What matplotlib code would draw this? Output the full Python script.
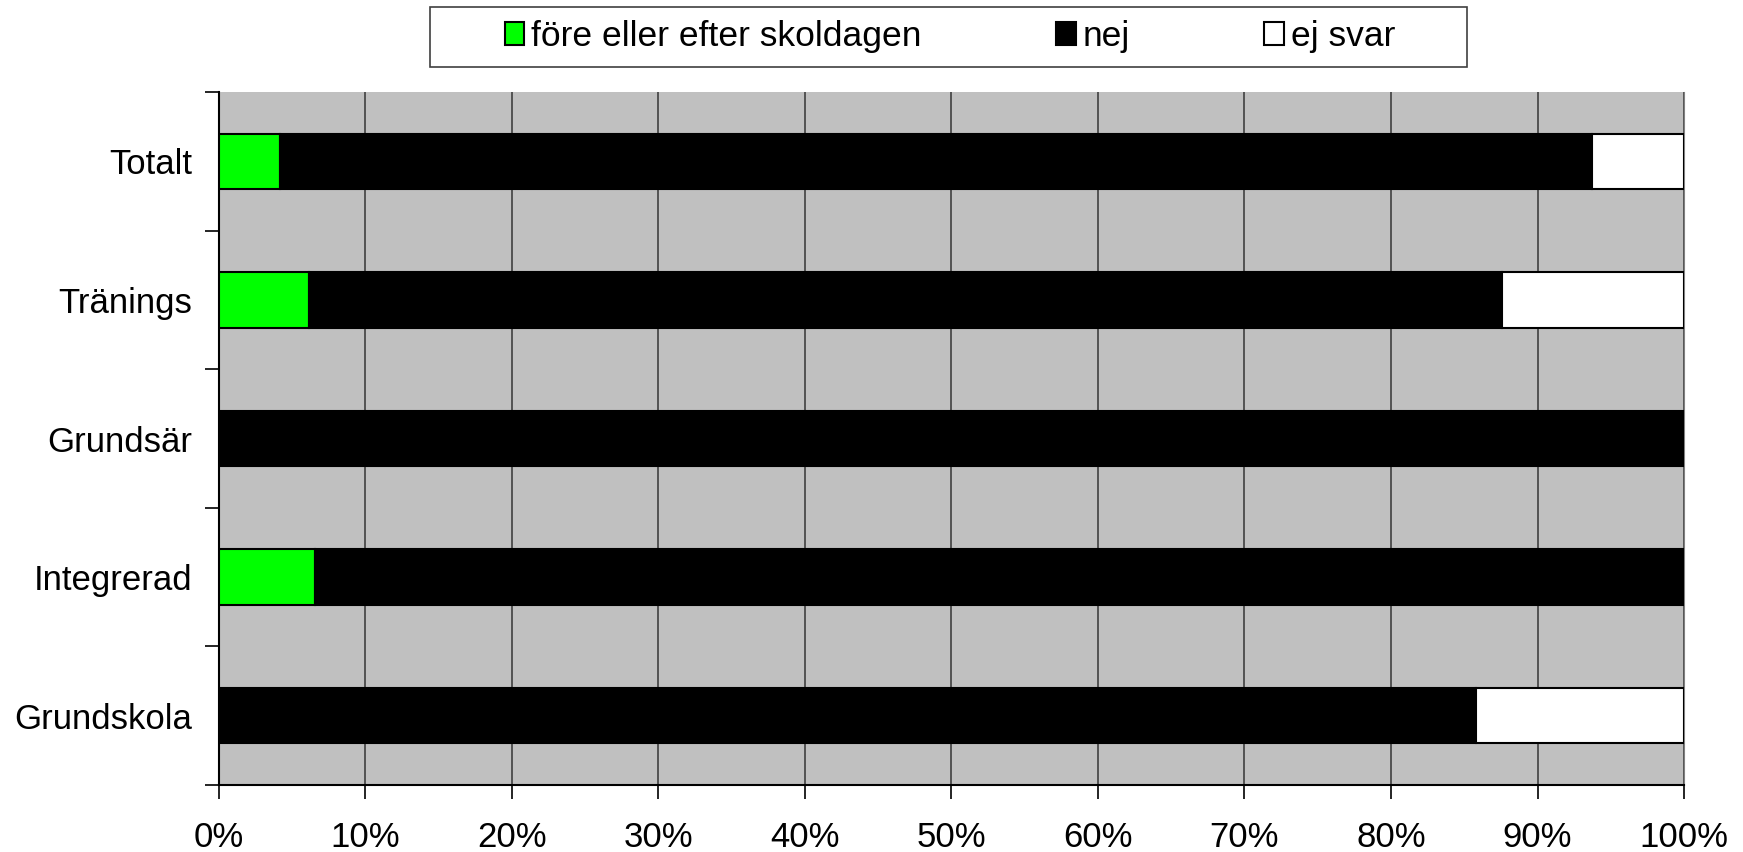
import matplotlib.pyplot as plt
from matplotlib.patches import Patch, Rectangle

plt.rcParams['font.family'] = ['Liberation Sans', 'DejaVu Sans']

categories = ["Grundskola", "Integrerad", "Grundsär", "Tränings", "Totalt"]
fore = [0.0, 6.6, 0.0, 6.2, 4.2]
nej = [85.8, 93.4, 100.0, 81.4, 89.5]
ej_svar = [14.2, 0.0, 0.0, 12.4, 6.3]
series_names = ["före eller efter skoldagen", "nej", "ej svar"]
colors = ["#00FF00", "#000000", "#FFFFFF"]

fig = plt.figure(figsize=(17.43, 8.52), dpi=100)
ax = fig.add_axes([0.1254, 0.0786, 0.8408, 0.8134])
ax.set_facecolor("#C0C0C0")

y = range(len(categories))
left = [0] * len(categories)
for vals, col in zip([fore, nej, ej_svar], colors):
    ax.barh(y, vals, left=left, height=0.4, color=col, edgecolor="black", linewidth=1.5, zorder=3)
    left = [l + v for l, v in zip(left, vals)]

ax.set_xlim(0, 100)
ax.set_ylim(-0.5, len(categories) - 0.5)
ax.set_xticks(range(0, 101, 10))
ax.set_xticklabels([f"{v}%" for v in range(0, 101, 10)], fontsize=25)
ax.set_yticks(list(y))
ax.set_yticklabels(categories, fontsize=25)
ax.set_yticks([i - 0.5 for i in range(len(categories) + 1)], minor=True)
ax.tick_params(axis="y", which="major", length=0, pad=19)
ax.tick_params(axis="y", which="minor", length=10, width=1.2, direction="out")
ax.tick_params(axis="x", length=10, width=1.2, direction="out", pad=16)
ax.grid(axis="x", color="#404040", linewidth=1.2, zorder=1)
ax.set_axisbelow(True)
for s in ["left", "bottom"]:
    ax.spines[s].set_linewidth(1.5)
ax.spines["top"].set_visible(False)
ax.spines["right"].set_color("#808080")

# legend box
fig.patches.append(Rectangle((0.2467, 0.9214), 0.595, 0.0704, transform=fig.transFigure,
                             facecolor="white", edgecolor="#404040", linewidth=1.2))
handles = [Patch(facecolor=c, edgecolor="black", linewidth=1.5) for c in colors]
fig.legend(handles, series_names, loc="center", bbox_to_anchor=(0.545, 0.957), ncol=3,
           frameon=False, fontsize=25.5, handlelength=0.55, handleheight=0.6,
           handletextpad=0.2, columnspacing=3.8, borderpad=0)

fig.savefig("out.png")
